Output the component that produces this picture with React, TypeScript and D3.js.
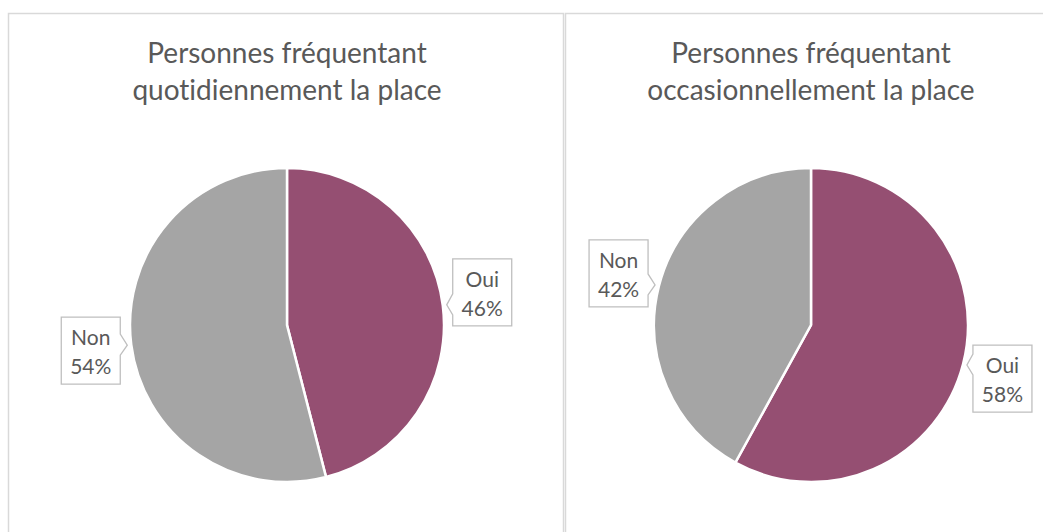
import React from 'react';
import * as d3 from 'd3';

// Data
const categories = ['Oui', 'Non'];
const quotidienValues = [46, 54];
const occasionnelValues = [58, 42];
const quotidienTitle = ['Personnes fréquentant', 'quotidiennement la place'];
const occasionnelTitle = ['Personnes fréquentant', 'occasionnellement la place'];

const colors = d3.scaleOrdinal<string, string>().domain(categories).range(['#954F72', '#A5A5A5']);

const width = 1043;
const height = 532;
const radius = 157;
const fontFamily = "Lato, 'Noto Sans', sans-serif";
const noLiga = { fontVariantLigatures: 'none' as const };

// vertical shift of each callout box relative to its pointer tip (layout only)
const boxShift = [
  { Oui: -46, Non: -28 },
  { Oui: -20, Non: -45 },
];

const pie = d3.pie<number>().sort(null).value(d => d);
const arc = d3.arc<d3.PieArcDatum<number>>().innerRadius(0).outerRadius(radius);

const BOX_W = 59;
const BOX_H = 67;

const Callout = ({ d, name, shift }) => {
  const mid = (d.startAngle + d.endAngle) / 2;
  const tx = Math.sin(mid) * (radius + 4);
  const ty = -Math.cos(mid) * (radius + 4);
  const right = tx > 0;
  const left = right ? tx + 6 : tx - 7 - BOX_W;
  const top = ty + shift;
  const bottom = top + BOX_H;
  const nTop = Math.max(top + 4, ty - 11);
  const nBot = Math.min(bottom - 4, ty + 10);
  const r = left + BOX_W;
  let path;
  if (right) {
    path = `M${left},${top}H${r}V${bottom}H${left}V${nBot}L${tx},${ty}L${left},${nTop}Z`;
  } else {
    path = `M${left},${top}H${r}V${nTop}L${tx},${ty}L${r},${nBot}V${bottom}H${left}Z`;
  }
  const cx = left + BOX_W / 2;
  return (
    <g>
      <path d={path} fill="#fff" stroke="#BFBFBF" strokeWidth={1.3} />
      <text x={cx} y={top + 28} textAnchor="middle" fontSize={21} fill="#595959" fontFamily={fontFamily} style={noLiga}>{name}</text>
      <text x={cx} y={top + 57} textAnchor="middle" fontSize={21} fill="#595959" fontFamily={fontFamily} style={noLiga}>{d.data}%</text>
    </g>
  );
};

const PieChart = ({ values, title, cx, cy, shift }) => {
  const arcs = pie(values);
  return (
    <g>
      {title.map((t, i) => (
        <text key={i} x={cx} y={63 + i * 37} textAnchor="middle" fontSize={28} fill="#595959" fontFamily={fontFamily} style={noLiga}>{t}</text>
      ))}
      <g transform={`translate(${cx},${cy})`}>
        {arcs.map((a, i) => (
          <path key={i} d={arc(a)} fill={colors(categories[i])} stroke="#fff" strokeWidth={2.5} />
        ))}
        {arcs.map((a, i) => (
          <Callout key={i} d={a} name={categories[i]} shift={shift[categories[i]]} />
        ))}
      </g>
    </g>
  );
};

export default function App() {
  return (
    <svg width={width} height={height} style={{ position: 'absolute', left: 0, top: 0, background: '#fff' }}>
      <rect x={8.5} y={13.5} width={555} height={560} fill="#fff" stroke="#D9D9D9" strokeWidth={1.5} />
      <rect x={565.5} y={13.5} width={500} height={560} fill="#fff" stroke="#D9D9D9" strokeWidth={1.5} />
      <PieChart values={quotidienValues} title={quotidienTitle} cx={287} cy={325} shift={boxShift[0]} />
      <PieChart values={occasionnelValues} title={occasionnelTitle} cx={811} cy={325} shift={boxShift[1]} />
    </svg>
  );
}
